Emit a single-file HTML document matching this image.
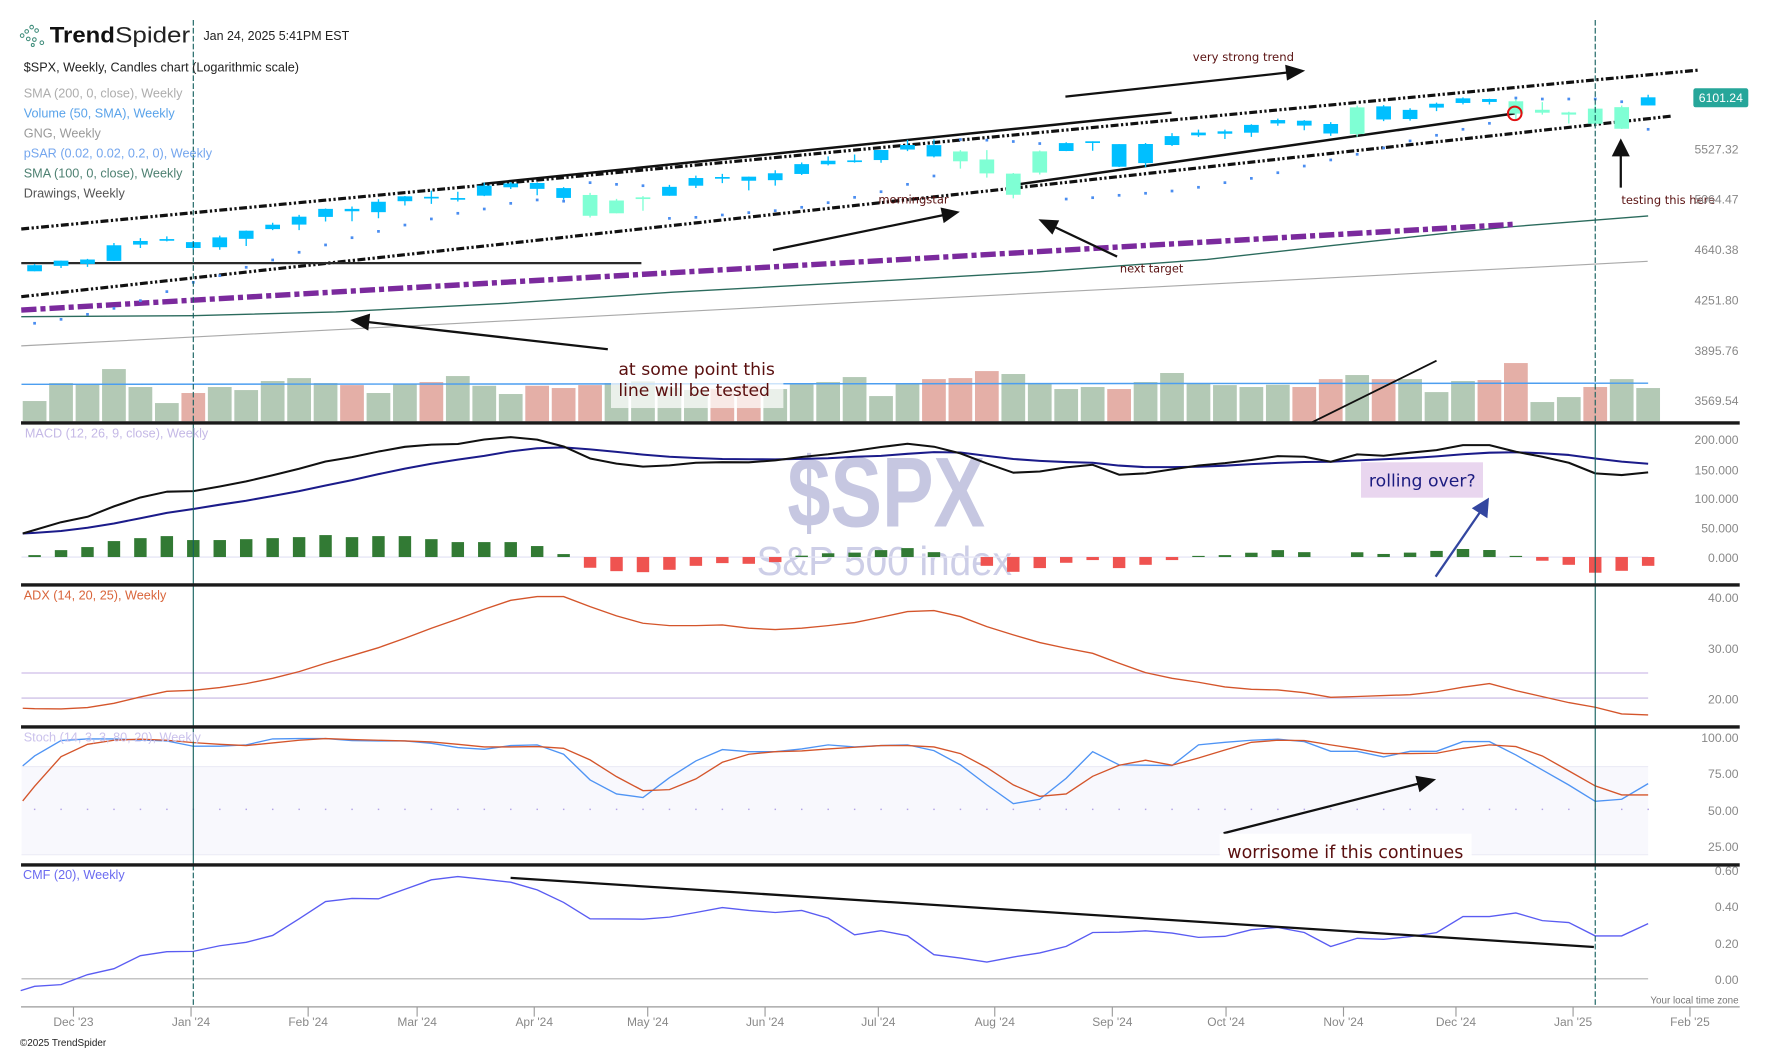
<!DOCTYPE html>
<html><head><meta charset="utf-8"><style>
html,body{margin:0;padding:0;background:#fff;}
svg{display:block;}
.s{font-family:"Liberation Sans",Arial,sans-serif;}
.d{font-family:"DejaVu Sans","Liberation Sans",sans-serif;}
</style></head><body>
<svg width="1770" height="1053" viewBox="0 0 1565.8 931.6" preserveAspectRatio="none" xmlns="http://www.w3.org/2000/svg">
<rect x="0" y="0" width="1565.8" height="931.6" fill="#fff"/>
<!-- Stoch band -->
<rect x="19" y="678.2" width="1439" height="78" fill="#f8f8fd"/>
<line x1="19" y1="678.2" x2="1458" y2="678.2" stroke="#ececf6" stroke-width="1"/>
<line x1="19" y1="756.2" x2="1458" y2="756.2" stroke="#ececf6" stroke-width="1"/>
<!-- watermark -->
<text class="s" x="696.5" y="466" font-size="88" font-weight="bold" fill="#c6c7e1" textLength="175" lengthAdjust="spacingAndGlyphs">$SPX</text>
<text class="s" x="669.3" y="508.8" font-size="36" fill="#cdcee7" textLength="226" lengthAdjust="spacingAndGlyphs">S&amp;P 500 index</text>
<!-- grid/ref lines -->
<line x1="19" y1="492.8" x2="1458" y2="492.8" stroke="#e6e6f5" stroke-width="1.2"/>
<line x1="19" y1="595.4" x2="1458" y2="595.4" stroke="#ddd1ef" stroke-width="1.5"/>
<line x1="19" y1="617.6" x2="1458" y2="617.6" stroke="#c4b5e2" stroke-width="1"/>
<line x1="19" y1="866" x2="1458" y2="866" stroke="#b0b0b0" stroke-width="1"/>
<g fill="#b3a4e6">
<rect x="30" y="715.4" width="1.3" height="1.3"/><rect x="53.4" y="715.4" width="1.3" height="1.3"/><rect x="76.8" y="715.4" width="1.3" height="1.3"/><rect x="100.2" y="715.4" width="1.3" height="1.3"/><rect x="123.6" y="715.4" width="1.3" height="1.3"/><rect x="147" y="715.4" width="1.3" height="1.3"/><rect x="170.4" y="715.4" width="1.3" height="1.3"/><rect x="193.8" y="715.4" width="1.3" height="1.3"/><rect x="217.2" y="715.4" width="1.3" height="1.3"/><rect x="240.6" y="715.4" width="1.3" height="1.3"/><rect x="264" y="715.4" width="1.3" height="1.3"/><rect x="287.4" y="715.4" width="1.3" height="1.3"/><rect x="310.8" y="715.4" width="1.3" height="1.3"/><rect x="334.2" y="715.4" width="1.3" height="1.3"/><rect x="357.6" y="715.4" width="1.3" height="1.3"/><rect x="381" y="715.4" width="1.3" height="1.3"/><rect x="404.4" y="715.4" width="1.3" height="1.3"/><rect x="427.8" y="715.4" width="1.3" height="1.3"/><rect x="451.2" y="715.4" width="1.3" height="1.3"/><rect x="474.6" y="715.4" width="1.3" height="1.3"/><rect x="498" y="715.4" width="1.3" height="1.3"/><rect x="521.4" y="715.4" width="1.3" height="1.3"/><rect x="544.8" y="715.4" width="1.3" height="1.3"/><rect x="568.2" y="715.4" width="1.3" height="1.3"/><rect x="591.6" y="715.4" width="1.3" height="1.3"/><rect x="615" y="715.4" width="1.3" height="1.3"/><rect x="638.4" y="715.4" width="1.3" height="1.3"/><rect x="661.8" y="715.4" width="1.3" height="1.3"/><rect x="685.2" y="715.4" width="1.3" height="1.3"/><rect x="708.6" y="715.4" width="1.3" height="1.3"/><rect x="732" y="715.4" width="1.3" height="1.3"/><rect x="755.4" y="715.4" width="1.3" height="1.3"/><rect x="778.8" y="715.4" width="1.3" height="1.3"/><rect x="802.2" y="715.4" width="1.3" height="1.3"/><rect x="825.6" y="715.4" width="1.3" height="1.3"/><rect x="849" y="715.4" width="1.3" height="1.3"/><rect x="872.4" y="715.4" width="1.3" height="1.3"/><rect x="895.8" y="715.4" width="1.3" height="1.3"/><rect x="919.2" y="715.4" width="1.3" height="1.3"/><rect x="942.6" y="715.4" width="1.3" height="1.3"/><rect x="966" y="715.4" width="1.3" height="1.3"/><rect x="989.4" y="715.4" width="1.3" height="1.3"/><rect x="1012.8" y="715.4" width="1.3" height="1.3"/><rect x="1036.2" y="715.4" width="1.3" height="1.3"/><rect x="1059.6" y="715.4" width="1.3" height="1.3"/><rect x="1083" y="715.4" width="1.3" height="1.3"/><rect x="1106.4" y="715.4" width="1.3" height="1.3"/><rect x="1129.8" y="715.4" width="1.3" height="1.3"/><rect x="1153.2" y="715.4" width="1.3" height="1.3"/><rect x="1176.6" y="715.4" width="1.3" height="1.3"/><rect x="1200" y="715.4" width="1.3" height="1.3"/><rect x="1223.4" y="715.4" width="1.3" height="1.3"/><rect x="1246.8" y="715.4" width="1.3" height="1.3"/><rect x="1270.2" y="715.4" width="1.3" height="1.3"/><rect x="1293.6" y="715.4" width="1.3" height="1.3"/><rect x="1317" y="715.4" width="1.3" height="1.3"/><rect x="1340.4" y="715.4" width="1.3" height="1.3"/><rect x="1363.8" y="715.4" width="1.3" height="1.3"/><rect x="1387.2" y="715.4" width="1.3" height="1.3"/><rect x="1410.6" y="715.4" width="1.3" height="1.3"/><rect x="1434" y="715.4" width="1.3" height="1.3"/><rect x="1457.4" y="715.4" width="1.3" height="1.3"/>
</g>
<!-- SMA lines -->
<polyline fill="none" stroke="#a9a9a9" stroke-width="1" points="18.8,306 400,286.4 777,266.5 1100,249.8 1282.7,240.3 1457.6,231.2"/>
<polyline fill="none" stroke="#2b6b5d" stroke-width="1.2" points="18.8,280.2 170,279.3 297,276 446,268.5 595,258.5 770,249 919,240.5 1068,229.5 1180,217 1283,206 1338,200.5 1458,191"/>
<!-- volume bars -->
<g fill="#b3c9b5">
<rect x="20.1" y="354.8" width="21" height="17.9"/><rect x="43.5" y="338.9" width="21" height="33.8"/><rect x="66.9" y="340.1" width="21" height="32.6"/><rect x="90.3" y="326.5" width="21" height="46.2"/><rect x="113.7" y="342.4" width="21" height="30.3"/><rect x="137.1" y="356.6" width="21" height="16.1"/><rect x="183.9" y="342.4" width="21" height="30.3"/><rect x="207.3" y="345.1" width="21" height="27.6"/><rect x="230.7" y="337.1" width="21" height="35.6"/><rect x="254.1" y="334.5" width="21" height="38.2"/><rect x="277.5" y="338.9" width="21" height="33.8"/><rect x="324.3" y="347.7" width="21" height="25"/><rect x="347.7" y="339.5" width="21" height="33.2"/><rect x="394.5" y="332.7" width="21" height="40"/><rect x="417.9" y="341.3" width="21" height="31.4"/><rect x="441.3" y="348.6" width="21" height="24.1"/><rect x="534.9" y="338.9" width="21" height="33.8"/><rect x="558.3" y="337.4" width="21" height="35.3"/><rect x="581.7" y="343" width="21" height="29.7"/><rect x="605.1" y="345" width="21" height="27.7"/><rect x="675.3" y="344.2" width="21" height="28.5"/><rect x="698.7" y="339.5" width="21" height="33.2"/><rect x="722.1" y="338" width="21" height="34.7"/><rect x="745.5" y="333.6" width="21" height="39.1"/><rect x="768.9" y="350.4" width="21" height="22.3"/><rect x="792.3" y="338.9" width="21" height="33.8"/><rect x="885.9" y="330.9" width="21" height="41.8"/><rect x="909.3" y="339.5" width="21" height="33.2"/><rect x="932.7" y="344.2" width="21" height="28.5"/><rect x="956.1" y="342.4" width="21" height="30.3"/><rect x="1002.9" y="338" width="21" height="34.7"/><rect x="1026.3" y="330" width="21" height="42.7"/><rect x="1049.7" y="339.2" width="21" height="33.5"/><rect x="1073.1" y="340.7" width="21" height="32"/><rect x="1096.5" y="342.4" width="21" height="30.3"/><rect x="1119.9" y="340.4" width="21" height="32.3"/><rect x="1190.1" y="331.8" width="21" height="40.9"/><rect x="1236.9" y="335.4" width="21" height="37.3"/><rect x="1260.3" y="346.9" width="21" height="25.8"/><rect x="1283.7" y="337.1" width="21" height="35.6"/><rect x="1353.9" y="355.7" width="21" height="17"/><rect x="1377.3" y="351.3" width="21" height="21.4"/><rect x="1424.1" y="335.4" width="21" height="37.3"/><rect x="1447.5" y="343.3" width="21" height="29.4"/>
</g>
<g fill="#e4afa7">
<rect x="160.5" y="347.7" width="21" height="25"/><rect x="300.9" y="340.7" width="21" height="32"/><rect x="371.1" y="338" width="21" height="34.7"/><rect x="464.7" y="341.3" width="21" height="31.4"/><rect x="488.1" y="343.3" width="21" height="29.4"/><rect x="511.5" y="340.7" width="21" height="32"/><rect x="628.5" y="344" width="21" height="28.7"/><rect x="651.9" y="341" width="21" height="31.7"/><rect x="815.7" y="335.4" width="21" height="37.3"/><rect x="839.1" y="334.5" width="21" height="38.2"/><rect x="862.5" y="328.3" width="21" height="44.4"/><rect x="979.5" y="344.2" width="21" height="28.5"/><rect x="1143.3" y="342.4" width="21" height="30.3"/><rect x="1166.7" y="335.4" width="21" height="37.3"/><rect x="1213.5" y="335.4" width="21" height="37.3"/><rect x="1307.1" y="336.2" width="21" height="36.5"/><rect x="1330.5" y="321.2" width="21" height="51.5"/><rect x="1400.7" y="342.4" width="21" height="30.3"/>
</g>
<line x1="19" y1="340" x2="1458" y2="339" stroke="#4c9ef0" stroke-width="1.3"/>
<!-- drawings main -->
<line x1="18.8" y1="202.6" x2="1503.8" y2="61.9" stroke="#111" stroke-width="2.8" stroke-dasharray="7,2.2,2,2.2,2,2.2"/>
<line x1="18.8" y1="262.5" x2="1480" y2="102.6" stroke="#111" stroke-width="2.8" stroke-dasharray="7,2.2,2,2.2,2,2.2"/>
<line x1="18.8" y1="274.3" x2="1338.4" y2="198.5" stroke="#7b2a9d" stroke-width="4.8" stroke-dasharray="13.5,3.5,4.5,3.5"/>
<line x1="18.8" y1="232.8" x2="567.4" y2="232.8" stroke="#2a2a2a" stroke-width="2"/>
<line x1="426.2" y1="162.8" x2="1036.4" y2="99.7" stroke="#111" stroke-width="2.2"/>
<line x1="896.3" y1="163.7" x2="1339.9" y2="100.3" stroke="#111" stroke-width="2.2"/>
<!-- candles blue -->
<path fill="none" stroke="#00bfff" stroke-width="1.2" d="M30.6,233.6V240M54,230.6V237.1M77.4,229V236.1M100.8,215V230.8M124.2,210.7V219.4M147.6,209.1V213.6M171,213.2V221M194.4,208.5V221M217.8,203.9V217.6M241.2,197.1V203.6M264.6,190.1V203.6M288,184.5V196M311.4,182.7V195.7M334.8,176.3V193.1M358.2,173.4V181.8M381.6,168.6V180.4M405,169.6V178.3M428.4,161.6V173.5M451.8,161.2V167.2M475.2,161.3V172.7M498.6,165.5V176.7M592.2,163.6V173.2M615.6,155.4V166.3M639,153.8V162M662.4,156.3V168.4M685.8,150.6V164.2M709.2,143.8V154.8M732.6,138.3V146.3M756,136.7V143.9M779.4,132.5V144M802.8,123.7V133.7M826.2,123.4V139.2M943.2,125.8V133.7M966.6,125.1V133.4M990,127.5V147.7M1013.4,126.5V148M1036.8,117.8V129.2M1060.2,114.7V121.1M1083.6,114.7V123M1107,109.9V121.1M1130.4,105V111.2M1153.8,106.3V115.2M1177.2,108.1V120.2M1224,93V107.2M1247.4,95.8V106.7M1270.8,90.8V98.3M1294.2,86.2V92.3M1317.6,87.4V92.5M1458,83.8V93.3"/>
<g fill="#00bfff">
<rect x="24.1" y="234.6" width="13" height="5.4"/><rect x="47.5" y="230.6" width="13" height="4.6"/><rect x="70.9" y="229.6" width="13" height="3.9"/><rect x="94.3" y="217" width="13" height="13.8"/><rect x="117.7" y="213.2" width="13" height="3.2"/><rect x="141.1" y="211.5" width="13" height="1.5"/><rect x="164.5" y="214.2" width="13" height="5.2"/><rect x="187.9" y="210" width="13" height="8.7"/><rect x="211.3" y="204.1" width="13" height="7.2"/><rect x="234.7" y="198.8" width="13" height="3.9"/><rect x="258.1" y="191.7" width="13" height="7"/><rect x="281.5" y="184.8" width="13" height="7.1"/><rect x="304.9" y="184.8" width="13" height="2.1"/><rect x="328.3" y="178.5" width="13" height="9.2"/><rect x="351.7" y="173.7" width="13" height="4.3"/><rect x="375.1" y="174.1" width="13" height="1.5"/><rect x="398.5" y="175.2" width="13" height="1.5"/><rect x="421.9" y="164.2" width="13" height="8.9"/><rect x="445.3" y="162.3" width="13" height="3.4"/><rect x="468.7" y="161.9" width="13" height="5.2"/><rect x="492.1" y="166.4" width="13" height="8.7"/><rect x="585.7" y="165.3" width="13" height="7.9"/><rect x="609.1" y="157.5" width="13" height="6.8"/><rect x="632.5" y="156.6" width="13" height="1.5"/><rect x="655.9" y="156.3" width="13" height="3.6"/><rect x="679.3" y="153.3" width="13" height="6.1"/><rect x="702.7" y="145.2" width="13" height="8.7"/><rect x="726.1" y="142.2" width="13" height="3.1"/><rect x="749.5" y="141.9" width="13" height="1.5"/><rect x="772.9" y="132.7" width="13" height="8.9"/><rect x="796.3" y="128.3" width="13" height="4"/><rect x="819.7" y="128.4" width="13" height="10"/><rect x="936.7" y="126.6" width="13" height="7"/><rect x="960.1" y="125" width="13" height="1.5"/><rect x="983.5" y="127.5" width="13" height="20"/><rect x="1006.9" y="127.4" width="13" height="16.9"/><rect x="1030.3" y="120.4" width="13" height="7.9"/><rect x="1053.7" y="117.3" width="13" height="2.4"/><rect x="1077.1" y="116.2" width="13" height="2.1"/><rect x="1100.5" y="110.5" width="13" height="6.9"/><rect x="1123.9" y="106.2" width="13" height="3"/><rect x="1147.3" y="106.8" width="13" height="4.3"/><rect x="1170.7" y="109.7" width="13" height="8.4"/><rect x="1217.5" y="94.1" width="13" height="11.6"/><rect x="1240.9" y="97.2" width="13" height="8.1"/><rect x="1264.3" y="91.8" width="13" height="3.4"/><rect x="1287.7" y="87" width="13" height="4.1"/><rect x="1311.1" y="87.6" width="13" height="2.6"/><rect x="1451.5" y="86.1" width="13" height="7.2"/>
</g>
<!-- candles aqua -->
<path fill="none" stroke="#7fffd4" stroke-width="1.2" d="M522,170.6V192.4M545.4,176V188.7M568.8,173.5V186.4M849.6,132.8V149.2M873,132.8V157.2M896.4,153.1V175.5M919.8,133.1V154.4M1200.6,93.5V121M1341,87.4V105.9M1364.4,90.3V101.4M1387.8,98.9V109.3M1411.2,92.7V111M1434.6,93.3V114.1"/>
<g fill="#7fffd4">
<rect x="515.5" y="172.5" width="13" height="18.4"/><rect x="538.9" y="177.4" width="13" height="11.3"/><rect x="562.3" y="174.6" width="13" height="1.5"/><rect x="843.1" y="134" width="13" height="8.7"/><rect x="866.5" y="141.1" width="13" height="12.3"/><rect x="889.9" y="153.6" width="13" height="18.7"/><rect x="913.3" y="133.9" width="13" height="18.8"/><rect x="1194.1" y="95" width="13" height="23.6"/><rect x="1334.5" y="89.6" width="13" height="10.9"/><rect x="1357.9" y="97.1" width="13" height="2.6"/><rect x="1381.3" y="99.5" width="13" height="1.9"/><rect x="1404.7" y="96.1" width="13" height="13.4"/><rect x="1428.1" y="94.8" width="13" height="19.1"/>
</g>
<!-- pSAR -->
<g fill="#4a8df0">
<rect x="29.4" y="284.8" width="2.4" height="2.4"/><rect x="52.8" y="281.3" width="2.4" height="2.4"/><rect x="76.2" y="276.9" width="2.4" height="2.4"/><rect x="99.6" y="271.6" width="2.4" height="2.4"/><rect x="123" y="264.8" width="2.4" height="2.4"/><rect x="146.4" y="256.8" width="2.4" height="2.4"/><rect x="169.8" y="248.6" width="2.4" height="2.4"/><rect x="193.2" y="242.7" width="2.4" height="2.4"/><rect x="216.6" y="235.3" width="2.4" height="2.4"/><rect x="240" y="228.8" width="2.4" height="2.4"/><rect x="263.4" y="222" width="2.4" height="2.4"/><rect x="286.8" y="215.5" width="2.4" height="2.4"/><rect x="310.2" y="209.1" width="2.4" height="2.4"/><rect x="333.6" y="203.5" width="2.4" height="2.4"/><rect x="357" y="197.9" width="2.4" height="2.4"/><rect x="380.4" y="192.5" width="2.4" height="2.4"/><rect x="403.8" y="187.5" width="2.4" height="2.4"/><rect x="427.2" y="183.7" width="2.4" height="2.4"/><rect x="450.6" y="178.7" width="2.4" height="2.4"/><rect x="474" y="175.7" width="2.4" height="2.4"/><rect x="497.4" y="176.8" width="2.4" height="2.4"/><rect x="520.8" y="160.4" width="2.4" height="2.4"/><rect x="544.2" y="161.9" width="2.4" height="2.4"/><rect x="567.6" y="163.1" width="2.4" height="2.4"/><rect x="591" y="192" width="2.4" height="2.4"/><rect x="614.4" y="191.1" width="2.4" height="2.4"/><rect x="637.8" y="189" width="2.4" height="2.4"/><rect x="661.2" y="186.9" width="2.4" height="2.4"/><rect x="684.6" y="185.2" width="2.4" height="2.4"/><rect x="708" y="182.2" width="2.4" height="2.4"/><rect x="731.4" y="178.1" width="2.4" height="2.4"/><rect x="754.8" y="173.4" width="2.4" height="2.4"/><rect x="778.2" y="168.4" width="2.4" height="2.4"/><rect x="801.6" y="161.9" width="2.4" height="2.4"/><rect x="825" y="154.5" width="2.4" height="2.4"/><rect x="848.4" y="122.2" width="2.4" height="2.4"/><rect x="871.8" y="122.8" width="2.4" height="2.4"/><rect x="895.2" y="124" width="2.4" height="2.4"/><rect x="918.6" y="125.8" width="2.4" height="2.4"/><rect x="942" y="174.9" width="2.4" height="2.4"/><rect x="965.4" y="173.7" width="2.4" height="2.4"/><rect x="988.8" y="171.6" width="2.4" height="2.4"/><rect x="1012.2" y="169.8" width="2.4" height="2.4"/><rect x="1035.6" y="167.8" width="2.4" height="2.4"/><rect x="1059" y="164.5" width="2.4" height="2.4"/><rect x="1082.4" y="160.4" width="2.4" height="2.4"/><rect x="1105.8" y="156.6" width="2.4" height="2.4"/><rect x="1129.2" y="151.6" width="2.4" height="2.4"/><rect x="1152.6" y="145.7" width="2.4" height="2.4"/><rect x="1176" y="140.3" width="2.4" height="2.4"/><rect x="1199.4" y="135.3" width="2.4" height="2.4"/><rect x="1222.8" y="129.7" width="2.4" height="2.4"/><rect x="1246.2" y="123.5" width="2.4" height="2.4"/><rect x="1269.6" y="118.5" width="2.4" height="2.4"/><rect x="1293" y="113.2" width="2.4" height="2.4"/><rect x="1316.4" y="107.9" width="2.4" height="2.4"/><rect x="1339.8" y="85.5" width="2.4" height="2.4"/><rect x="1363.2" y="86.4" width="2.4" height="2.4"/><rect x="1386.6" y="86.4" width="2.4" height="2.4"/><rect x="1410" y="86.4" width="2.4" height="2.4"/><rect x="1433.4" y="88.8" width="2.4" height="2.4"/><rect x="1456.8" y="113.2" width="2.4" height="2.4"/>
</g>
<circle cx="1340" cy="100.3" r="6" fill="none" stroke="#e01010" stroke-width="1.8"/>
<!-- MACD histogram -->
<g fill="#327a34">
<rect x="25.1" y="491.1" width="11" height="1.7"/><rect x="48.5" y="486.7" width="11" height="6.1"/><rect x="71.9" y="484" width="11" height="8.8"/><rect x="95.3" y="478.7" width="11" height="14.1"/><rect x="118.7" y="476.1" width="11" height="16.7"/><rect x="142.1" y="474.3" width="11" height="18.5"/><rect x="165.5" y="477.8" width="11" height="15"/><rect x="188.9" y="477.8" width="11" height="15"/><rect x="212.3" y="477" width="11" height="15.8"/><rect x="235.7" y="476.1" width="11" height="16.7"/><rect x="259.1" y="475.2" width="11" height="17.6"/><rect x="282.5" y="473.4" width="11" height="19.4"/><rect x="305.9" y="475.2" width="11" height="17.6"/><rect x="329.3" y="474.3" width="11" height="18.5"/><rect x="352.7" y="474.3" width="11" height="18.5"/><rect x="376.1" y="477" width="11" height="15.8"/><rect x="399.5" y="479.6" width="11" height="13.2"/><rect x="422.9" y="479.6" width="11" height="13.2"/><rect x="446.3" y="479.6" width="11" height="13.2"/><rect x="469.7" y="483.1" width="11" height="9.7"/><rect x="493.1" y="490.2" width="11" height="2.6"/><rect x="703.7" y="491.6" width="11" height="1.2"/><rect x="727.1" y="489.5" width="11" height="3.3"/><rect x="750.5" y="488.9" width="11" height="3.9"/><rect x="773.9" y="486.7" width="11" height="6.1"/><rect x="797.3" y="484.9" width="11" height="7.9"/><rect x="820.7" y="488.5" width="11" height="4.3"/><rect x="1054.7" y="491.8" width="11" height="1"/><rect x="1078.1" y="491.1" width="11" height="1.7"/><rect x="1101.5" y="489" width="11" height="3.8"/><rect x="1124.9" y="486.7" width="11" height="6.1"/><rect x="1148.3" y="488.5" width="11" height="4.3"/><rect x="1195.1" y="488.6" width="11" height="4.2"/><rect x="1218.5" y="490.1" width="11" height="2.7"/><rect x="1241.9" y="488.9" width="11" height="3.9"/><rect x="1265.3" y="487.4" width="11" height="5.4"/><rect x="1288.7" y="485.7" width="11" height="7.1"/><rect x="1312.1" y="486.6" width="11" height="6.2"/><rect x="1335.5" y="491.8" width="11" height="1"/>
</g>
<g fill="#ef5350">
<rect x="516.5" y="492.8" width="11" height="9.5"/><rect x="539.9" y="492.8" width="11" height="12.5"/><rect x="563.3" y="492.8" width="11" height="13.4"/><rect x="586.7" y="492.8" width="11" height="11.3"/><rect x="610.1" y="492.8" width="11" height="7.8"/><rect x="633.5" y="492.8" width="11" height="5.4"/><rect x="656.9" y="492.8" width="11" height="6"/><rect x="680.3" y="492.8" width="11" height="4.5"/><rect x="867.5" y="492.8" width="11" height="7.8"/><rect x="890.9" y="492.8" width="11" height="13.1"/><rect x="914.3" y="492.8" width="11" height="9.8"/><rect x="937.7" y="492.8" width="11" height="5.1"/><rect x="961.1" y="492.8" width="11" height="2.7"/><rect x="984.5" y="492.8" width="11" height="9.8"/><rect x="1007.9" y="492.8" width="11" height="6.9"/><rect x="1031.3" y="492.8" width="11" height="2.7"/><rect x="1358.9" y="492.8" width="11" height="3.3"/><rect x="1382.3" y="492.8" width="11" height="6.9"/><rect x="1405.7" y="492.8" width="11" height="13.9"/><rect x="1429.1" y="492.8" width="11" height="12.2"/><rect x="1452.5" y="492.8" width="11" height="7.8"/>
</g>
<!-- MACD lines -->
<polyline fill="none" stroke="#1b1b8a" stroke-width="1.8" stroke-linejoin="round" points="20.1,472 30.6,471.4 54,469.8 77.4,466.9 100.8,463.1 124.2,458.5 147.6,453.7 171,450.3 194.4,446.5 217.8,443 241.2,438.8 264.6,434.5 288,429.5 311.4,424.8 334.8,419.5 358.2,414.6 381.6,410.3 405,406.6 428.4,403.3 451.8,399.3 475.2,396.6 498.6,395.8 522,397.6 545.4,399.8 568.8,402.2 592.2,404.1 615.6,405.2 639,406.1 662.4,406.3 685.8,406.4 709.2,406 732.6,405.4 756,404.1 779.4,403.3 802.8,401.5 826.2,400 849.6,400.3 873,403.3 896.4,406.1 919.8,407.7 943.2,408.8 966.6,409.4 990,411.9 1013.4,413.3 1036.8,413.3 1060.2,412.9 1083.6,412 1107,410.6 1130.4,409.5 1153.8,408.7 1177.2,408.5 1200.6,407.3 1224,406.3 1247.4,405.3 1270.8,403.8 1294.2,401.9 1317.6,400.5 1341,400.1 1364.4,401 1387.8,402.5 1411.2,405.6 1434.6,408.4 1458,410.3"/>
<polyline fill="none" stroke="#111" stroke-width="1.8" stroke-linejoin="round" points="20.1,472 30.6,468.9 54,462 77.4,457.2 100.8,448 124.2,440.1 147.6,435 171,434.5 194.4,430.4 217.8,425.9 241.2,420.5 264.6,414.7 288,408.3 311.4,404.4 334.8,399.5 358.2,395.3 381.6,393.4 405,392.8 428.4,388.8 451.8,386.7 475.2,388.9 498.6,395 522,405.6 545.4,410.2 568.8,412.8 592.2,411.7 615.6,409.4 639,408.9 662.4,409 685.8,407.3 709.2,404.3 732.6,401.9 756,398.9 779.4,395.5 802.8,392.6 826.2,395.2 849.6,401.1 873,410 896.4,418.2 919.8,417.1 943.2,413.5 966.6,411.2 990,420 1013.4,418.8 1036.8,415.3 1060.2,411.8 1083.6,409.7 1107,407 1130.4,403.5 1153.8,404.1 1177.2,408.5 1200.6,402 1224,403.2 1247.4,400.5 1270.8,398.2 1294.2,393.8 1317.6,393.8 1341,399.7 1364.4,404.1 1387.8,409.4 1411.2,418.8 1434.6,420.3 1458,417.9"/>
<!-- ADX -->
<polyline fill="none" stroke="#d4552b" stroke-width="1.2" points="20.1,626.6 30.6,627 54,627.2 77.4,626 100.8,622.2 124.2,616.6 147.6,611.6 171,610.7 194.4,608.3 217.8,604.8 241.2,600.1 264.6,594.2 288,586.8 311.4,580 334.8,573 358.2,564.7 381.6,555.8 405,547.6 428.4,539 451.8,531.1 475.2,527.8 498.6,527.8 522,536.7 545.4,544.9 568.8,551.4 592.2,553.5 615.6,553.5 639,552.9 662.4,555.8 685.8,557 709.2,555.8 732.6,553.5 756,550.8 779.4,546.1 802.8,541.1 826.2,540.2 849.6,545.5 873,554.4 896.4,561.7 919.8,568.5 943.2,573.5 966.6,578 990,586.8 1013.4,595.1 1036.8,600.1 1060.2,603.6 1083.6,607.7 1107,609.8 1130.4,610.4 1153.8,612.8 1177.2,616.9 1200.6,616.2 1224,615.4 1247.4,614.6 1270.8,612 1294.2,608 1317.6,604.8 1341,611 1364.4,616.3 1387.8,621.6 1411.2,625.7 1434.6,631.6 1458,632.5"/>
<!-- Stoch -->
<polyline fill="none" stroke="#4f94f4" stroke-width="1.2" points="20.1,677.6 30.6,668.8 54,655.2 77.4,653.7 100.8,653.7 124.2,654.6 147.6,655.5 171,660.2 194.4,660.2 217.8,659 241.2,653.7 264.6,653.4 288,653.4 311.4,655.2 334.8,655.5 358.2,655.5 381.6,657.6 405,661.4 428.4,662.9 451.8,659.6 475.2,659 498.6,667.3 522,690 545.4,702.4 568.8,705.6 592.2,688 615.6,673.2 639,663.2 662.4,665 685.8,665 709.2,662.6 732.6,659 756,660.8 779.4,659.6 802.8,659 826.2,664.1 849.6,676.7 873,694.4 896.4,711 919.8,707.1 943.2,688.5 966.6,665 990,676.7 1013.4,677 1036.8,677.3 1060.2,659 1083.6,656.7 1107,654.9 1130.4,654 1153.8,656.1 1177.2,664.7 1200.6,664.7 1224,669.7 1247.4,664.7 1270.8,664.7 1294.2,656.1 1317.6,656.1 1341,667.9 1364.4,681.2 1387.8,694.5 1411.2,708.9 1434.6,707.1 1458,693.3"/>
<polyline fill="none" stroke="#d4552b" stroke-width="1.2" points="20.1,708.6 30.6,695.7 54,669.4 77.4,658.5 100.8,654.9 124.2,654 147.6,654.9 171,657 194.4,658.5 217.8,659.6 241.2,657.3 264.6,654.9 288,653.4 311.4,654.3 334.8,654.9 358.2,655.5 381.6,656.4 405,658.5 428.4,660.8 451.8,660.8 475.2,660.5 498.6,662 522,672.3 545.4,687.1 568.8,699.5 592.2,698.6 615.6,689.1 639,674.4 662.4,667.3 685.8,665 709.2,664.4 732.6,662.6 756,661.1 779.4,659.6 802.8,659.6 826.2,660.8 849.6,666.7 873,679.1 896.4,694.4 919.8,704.5 943.2,702.4 966.6,686.8 990,677 1013.4,672.6 1036.8,677 1060.2,670.6 1083.6,663.5 1107,656.7 1130.4,654.9 1153.8,655.2 1177.2,659 1200.6,662.6 1224,666.7 1247.4,666.7 1270.8,666.4 1294.2,662 1317.6,659 1341,660.5 1364.4,668.8 1387.8,682 1411.2,695.3 1434.6,703.3 1458,703.3"/>
<!-- CMF -->
<polyline fill="none" stroke="#5a5cf2" stroke-width="1.2" points="18.3,876.4 30.6,872.6 54,871.1 77.4,862.3 100.8,857 124.2,845.5 147.6,842 171,841.7 194.4,836.7 217.8,833.7 241.2,827.6 264.6,812.9 288,797.6 311.4,794.9 334.8,795.2 358.2,786.7 381.6,778.4 405,775.5 428.4,777.9 451.8,780.5 475.2,787.3 498.6,798.4 522,812.9 545.4,813 568.8,813.2 592.2,811.4 615.6,807.3 639,802.9 662.4,805.5 685.8,807.3 709.2,805.5 732.6,812.3 756,827 779.4,823.4 802.8,827.9 826.2,844.6 849.6,847.6 873,851.1 896.4,846.7 919.8,843.1 943.2,837.3 966.6,825 990,824.7 1013.4,823.5 1036.8,825.5 1060.2,829.3 1083.6,828.4 1107,822.5 1130.4,820.5 1153.8,825 1177.2,837.4 1200.6,830.1 1224,831 1247.4,828.6 1270.8,825.1 1294.2,810.9 1317.6,810.9 1341,807.7 1364.4,814.5 1387.8,816.2 1411.2,828 1434.6,828 1458,817.1"/>
<line x1="451.7" y1="776.7" x2="1410" y2="837.8" stroke="#111" stroke-width="2"/>
<!-- volume area line -->
<line x1="1160" y1="374" x2="1270.8" y2="319.1" stroke="#111" stroke-width="1.6"/>
<!-- vertical teal lines -->
<g stroke="#15605f" stroke-width="1">
<line x1="171" y1="17.7" x2="171" y2="374" stroke-dasharray="5,2"/>
<line x1="171" y1="374" x2="171" y2="765"/>
<line x1="171" y1="765" x2="171" y2="890.8" stroke-dasharray="5,2"/>
<line x1="1411.2" y1="17.7" x2="1411.2" y2="374" stroke-dasharray="5,2"/>
<line x1="1411.2" y1="374" x2="1411.2" y2="765"/>
<line x1="1411.2" y1="765" x2="1411.2" y2="890.8" stroke-dasharray="5,2"/>
</g>
<!-- arrows -->
<g stroke="#111" stroke-width="2" fill="#111">
<line x1="942.5" y1="85.5" x2="1138" y2="64.3"/>
<polygon points="1154.6,62.5 1138.5,71.3 1136.9,57.3" stroke="none"/>
<line x1="683.8" y1="221.2" x2="834" y2="190.4"/>
<polygon points="849.1,187.3 834.8,197.4 832,183.6" stroke="none"/>
<line x1="988.2" y1="227" x2="933" y2="200.8"/>
<polygon points="918.6,194 937,195 931,207.6" stroke="none"/>
<line x1="1433.8" y1="166" x2="1433.8" y2="138"/>
<polygon points="1433.8,122.4 1425.8,138.4 1441.8,138.4" stroke="none"/>
<line x1="537.7" y1="309" x2="326" y2="285"/>
<polygon points="309.7,283.1 327.4,277.5 325.8,292.5" stroke="none"/>
<line x1="1082.4" y1="737.2" x2="1254.5" y2="693.4"/>
<polygon points="1270.4,689.4 1255.7,700.9 1252.1,686.3" stroke="none"/>
</g>
<g stroke="#3346a0" stroke-width="2" fill="#3346a0">
<line x1="1270" y1="510.2" x2="1309" y2="453.5"/>
<polygon points="1317.2,440.3 1302,449.7 1315.8,458.5" stroke="none"/>
</g>
<!-- annotation boxes and text -->
<rect x="540.5" y="318.5" width="152.5" height="42.5" fill="#ffffff" fill-opacity="0.72"/>
<text class="d" x="547" y="331.8" font-size="15.2" fill="#5a0f0f" textLength="138.5" lengthAdjust="spacingAndGlyphs">at some point this</text>
<text class="d" x="547" y="350.4" font-size="15.2" fill="#5a0f0f">line will be tested</text>
<rect x="1204" y="409" width="107.9" height="31.3" fill="#e9d6ef"/>
<text class="d" x="1211" y="430.5" font-size="14.8" fill="#1c1c80" textLength="94.4" lengthAdjust="spacingAndGlyphs">rolling over?</text>
<rect x="1079" y="737.6" width="222.9" height="26.6" fill="#ffffff" fill-opacity="0.9"/>
<text class="d" x="1085.7" y="759.3" font-size="15.4" fill="#5a0f0f" textLength="208.8" lengthAdjust="spacingAndGlyphs">worrisome if this continues</text>
<g class="d" font-size="10.2" fill="#5a1212">
<text x="1055.2" y="54" textLength="89.5" lengthAdjust="spacingAndGlyphs">very strong trend</text>
<text x="777" y="179.9" textLength="62.2" lengthAdjust="spacingAndGlyphs">morningstar</text>
<text x="990.7" y="241.2" textLength="56.1" lengthAdjust="spacingAndGlyphs">next target</text>
<text x="1434.3" y="180.5" textLength="83" lengthAdjust="spacingAndGlyphs">testing this here</text>
</g>
<!-- header / legends -->
<g fill="none" stroke="#3b8a78" stroke-width="0.9">
<circle cx="19.6" cy="31.5" r="1.6"/><circle cx="23.6" cy="27.8" r="1.6"/><circle cx="28" cy="24" r="1.6"/><circle cx="32.4" cy="27" r="1.6"/><circle cx="25" cy="34.4" r="1.6"/><circle cx="30.4" cy="35" r="1.6"/><circle cx="37" cy="37.8" r="1.6"/><circle cx="29" cy="39.8" r="1.3"/>
</g>
<text class="s" x="44" y="37.7" font-size="20" font-weight="bold" fill="#111" textLength="57.6" lengthAdjust="spacingAndGlyphs">Trend</text>
<text class="s" x="101.8" y="37.7" font-size="20" fill="#222" textLength="66.4" lengthAdjust="spacingAndGlyphs">Spider</text>
<text class="s" x="180" y="35.4" font-size="11" fill="#222">Jan 24, 2025 5:41PM EST</text>
<g class="s" font-size="11.2">
<text x="21" y="63.4" fill="#222">$SPX, Weekly, Candles chart (Logarithmic scale)</text>
<text x="21" y="86.4" fill="#adadad">SMA (200, 0, close), Weekly</text>
<text x="21" y="104.1" fill="#5aa3ea">Volume (50, SMA), Weekly</text>
<text x="21" y="121.8" fill="#9a9a9a">GNG, Weekly</text>
<text x="21" y="139.5" fill="#74a6ee">pSAR (0.02, 0.02, 0.2, 0), Weekly</text>
<text x="21" y="157.2" fill="#4d8071">SMA (100, 0, close), Weekly</text>
<text x="21" y="174.9" fill="#555">Drawings, Weekly</text>
<text x="22" y="387" fill="#c5b9e6">MACD (12, 26, 9, close), Weekly</text>
<text x="21" y="530.2" fill="#d9653b">ADX (14, 20, 25), Weekly</text>
<text x="21" y="656.1" fill="#cbc2ec">Stoch (14, 3, 3, 80, 20), Weekly</text>
<text x="20.3" y="777.8" fill="#6b6bf0">CMF (20), Weekly</text>
</g>
<!-- right axis labels -->
<g class="s" font-size="10.8" fill="#888" text-anchor="end">
<text x="1538" y="135.6">5527.32</text>
<text x="1538" y="180.2">5064.47</text>
<text x="1538" y="224.8">4640.38</text>
<text x="1538" y="269.3">4251.80</text>
<text x="1538" y="314">3895.76</text>
<text x="1538" y="358.5">3569.54</text>
<text x="1538" y="393">200.000</text>
<text x="1538" y="419.6">150.000</text>
<text x="1538" y="445.2">100.000</text>
<text x="1538" y="470.9">50.000</text>
<text x="1538" y="497.4">0.000</text>
<text x="1538" y="532.8">40.00</text>
<text x="1538" y="577.9">30.00</text>
<text x="1538" y="622.2">20.00</text>
<text x="1538" y="656.4">100.00</text>
<text x="1538" y="688.2">75.00</text>
<text x="1538" y="721">50.00</text>
<text x="1538" y="753.1">25.00</text>
<text x="1538" y="774">0.60</text>
<text x="1538" y="805.9">0.40</text>
<text x="1538" y="838.6">0.20</text>
<text x="1538" y="870.5">0.00</text>
<text x="1538" y="887.9" font-size="8.7" fill="#777">Your local time zone</text>
</g>
<rect x="1498" y="78.1" width="48.6" height="16.8" rx="2" fill="#26a69a"/>
<text class="s" x="1522.3" y="90.4" font-size="10.8" fill="#fff" text-anchor="middle">6101.24</text>
<!-- x axis -->
<line x1="18.6" y1="890.8" x2="1539" y2="890.8" stroke="#9a9a9a" stroke-width="1.2"/>
<g stroke="#9a9a9a" stroke-width="1">
<line x1="65" y1="890.8" x2="65" y2="899.4"/><line x1="169" y1="890.8" x2="169" y2="899.4"/><line x1="272.6" y1="890.8" x2="272.6" y2="899.4"/><line x1="369" y1="890.8" x2="369" y2="899.4"/><line x1="472.6" y1="890.8" x2="472.6" y2="899.4"/><line x1="573" y1="890.8" x2="573" y2="899.4"/><line x1="676.8" y1="890.8" x2="676.8" y2="899.4"/><line x1="777" y1="890.8" x2="777" y2="899.4"/><line x1="880" y1="890.8" x2="880" y2="899.4"/><line x1="984" y1="890.8" x2="984" y2="899.4"/><line x1="1084.6" y1="890.8" x2="1084.6" y2="899.4"/><line x1="1188.5" y1="890.8" x2="1188.5" y2="899.4"/><line x1="1288" y1="890.8" x2="1288" y2="899.4"/><line x1="1391.6" y1="890.8" x2="1391.6" y2="899.4"/><line x1="1495" y1="890.8" x2="1495" y2="899.4"/>
</g>
<g class="s" font-size="10.6" fill="#888" text-anchor="middle">
<text x="65" y="907.6">Dec &#39;23</text><text x="169" y="907.6">Jan &#39;24</text><text x="272.6" y="907.6">Feb &#39;24</text><text x="369" y="907.6">Mar &#39;24</text><text x="472.6" y="907.6">Apr &#39;24</text><text x="573" y="907.6">May &#39;24</text><text x="676.8" y="907.6">Jun &#39;24</text><text x="777" y="907.6">Jul &#39;24</text><text x="880" y="907.6">Aug &#39;24</text><text x="984" y="907.6">Sep &#39;24</text><text x="1084.6" y="907.6">Oct &#39;24</text><text x="1188.5" y="907.6">Nov &#39;24</text><text x="1288" y="907.6">Dec &#39;24</text><text x="1391.6" y="907.6">Jan &#39;25</text><text x="1495" y="907.6">Feb &#39;25</text>
</g>
<text class="s" x="17.6" y="925.6" font-size="8.8" fill="#222">©2025 TrendSpider</text>
<!-- separators -->
<g stroke="#1a1a1a" stroke-width="3">
<line x1="18.6" y1="374.2" x2="1539" y2="374.2"/>
<line x1="18.6" y1="517.5" x2="1539" y2="517.5"/>
<line x1="18.6" y1="643.1" x2="1539" y2="643.1"/>
<line x1="18.6" y1="765.2" x2="1539" y2="765.2"/>
</g>
</svg>
</body></html>
